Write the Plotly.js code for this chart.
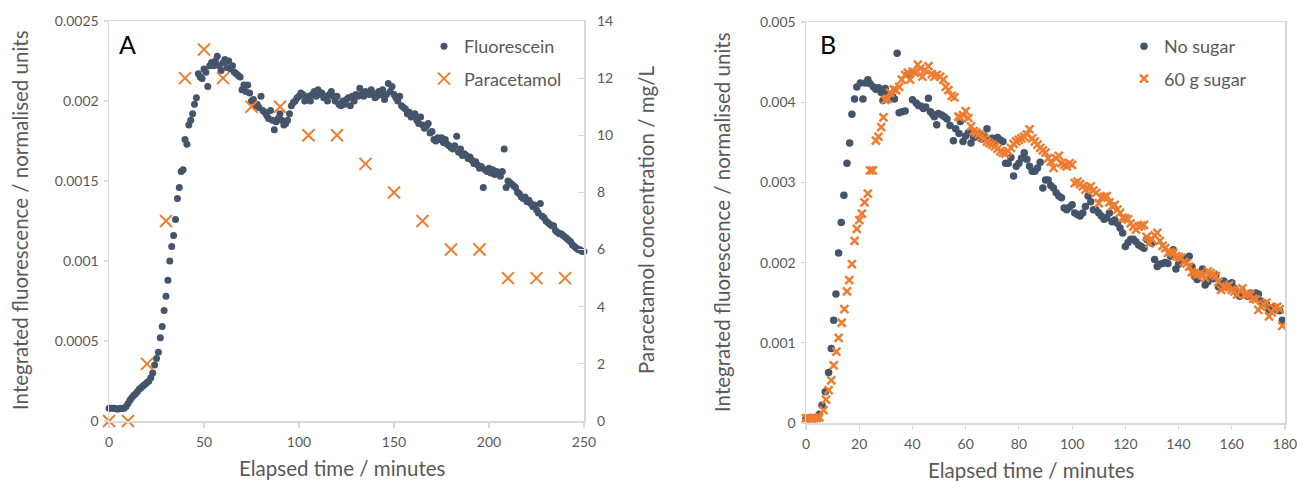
<!DOCTYPE html>
<html>
<head>
<meta charset="utf-8">
<script src="https://cdn.plot.ly/plotly-3.0.1.min.js"></script>
<style>html,body{margin:0;padding:0;background:#fff;}#chart{width:1297px;height:481px;}</style>
</head>
<body>
<div id="chart"></div>
<script>
// ---------- Panel A data ----------
const fluorTime = [
0,1,2,3,4,5,6,7,8,9,
10,11,12,13,14,15,16,17,18,19,
20,21,22,23,24,25,26,27,28,29,
30,31,32,33,34,35,36,37,38,39,
40,41,42,43,44,45,46,47,48,49,
50,51,52,53,54,55,56,57,58,59,
60,61,62,63,64,65,66,67,68,69,
70,71,72,73,74,75,76,77,78,79,
80,81,82,83,84,85,86,87,88,89,
90,91,92,93,94,95,96,97,98,99,
100,101,102,103,104,105,106,107,108,109,
110,111,112,113,114,115,116,117,118,119,
120,121,122,123,124,125,126,127,128,129,
130,131,132,133,134,135,136,137,138,139,
140,141,142,143,144,145,146,147,148,149,
150,151,152,153,154,155,156,157,158,159,
160,161,162,163,164,165,166,167,168,169,
170,171,172,173,174,175,176,177,178,179,
180,181,182,183,184,185,186,187,188,189,
190,191,192,193,194,195,196,197,198,199,
200,201,202,203,204,205,206,207,208,209,
210,211,212,213,214,215,216,217,218,219,
220,221,222,223,224,225,226,227,228,229,
230,231,232,233,234,235,236,237,238,239,
240,241,242,243,244,245,246,247,248,249,250];
const fluorValue = [
0.00008,0.00008,0.00008,0.00008,0.000075,0.000075,0.00008,0.000078,0.00008,0.00009,
0.00011,0.00013,0.000145,0.00016,0.00017,0.000185,0.0002,0.00021,0.00022,0.00023,
0.00024,0.00025,0.00027,0.0003,0.00035,0.00039,0.00043,0.00052,0.00059,0.00069,
0.00078,0.00088,0.001,0.00109,0.00116,0.00126,0.00139,0.00146,0.00156,0.00157,
0.00176,0.00173,0.00185,0.00188,0.00192,0.00198,0.00202,0.00217,0.00215,0.00214,
0.0022,0.00218,0.00209,0.00222,0.00224,0.00222,0.00225,0.00228,0.00222,0.00219,
0.00224,0.00226,0.00221,0.00225,0.0022,0.00222,0.00218,0.00217,0.00216,0.00215,
0.00207,0.0021,0.00206,0.0021,0.00205,0.002,0.00201,0.00197,0.00198,0.00196,
0.00203,0.00194,0.00193,0.00191,0.00189,0.00194,0.00188,0.00182,0.00187,0.00189,
0.00192,0.00188,0.00185,0.00186,0.00188,0.00192,0.00197,0.00199,0.002,0.00202,
0.00203,0.00205,0.00204,0.002,0.00202,0.00203,0.002,0.00204,0.00206,0.00203,
0.00207,0.00204,0.00205,0.00202,0.00203,0.002,0.00204,0.00206,0.00203,0.002,
0.00203,0.00198,0.00197,0.002,0.00198,0.00201,0.00202,0.00197,0.00203,0.002,
0.00204,0.00203,0.00208,0.00204,0.00203,0.00206,0.00205,0.00204,0.00207,0.00205,
0.00202,0.00203,0.00206,0.00204,0.00207,0.00201,0.00204,0.00211,0.00206,0.00209,
0.00204,0.00202,0.002,0.00203,0.00197,0.00196,0.00195,0.00192,0.00193,0.0019,
0.00191,0.00192,0.00188,0.00186,0.0019,0.00185,0.00183,0.00184,0.00186,0.0018,
0.00181,0.00176,0.00175,0.00177,0.00176,0.00177,0.00174,0.00176,0.00173,0.00172,
0.00171,0.0017,0.00172,0.00178,0.00168,0.0017,0.00166,0.00167,0.00166,0.00164,
0.00165,0.00163,0.00161,0.00162,0.0016,0.00158,0.00159,0.00146,0.00157,0.00156,
0.00158,0.00155,0.00157,0.00154,0.00156,0.00155,0.00153,0.00156,0.0017,0.00146,
0.0015,0.00149,0.00148,0.00147,0.00146,0.00143,0.00142,0.0014,0.00139,0.0014,
0.00137,0.00138,0.00136,0.00134,0.00135,0.00132,0.0013,0.00136,0.00128,0.00127,
0.00125,0.00124,0.00123,0.00122,0.00122,0.00119,0.00118,0.00117,0.00117,0.00116,
0.00115,0.00114,0.00113,0.00112,0.0011,0.00109,0.00108,0.00107,0.00107,0.00106,0.00106];

const paraTime  = [0,10,20,30,40,50,60,75,90,105,120,135,150,165,180,195,210,225,240];
const paraValue = [0,0,2,7,12,13,12,11,11,10,10,9,8,7,6,6,5,5,5];

// ---------- Panel B data ----------
const noSugarTime = [
0,1,2,3,4,5,6,7.25,8.5,9.5,10.4,11.25,12.25,13.25,14.25,15.4,16.4,17.25,18.25,19.1,
20.4,21.4,22.25,23.25,24.1,25.4,26.25,27.25,28.25,28.9,29.75,30.75,31.6,32.5,33.25,34.25,35,36,37.25,38.25,
40,41.4,42.25,43.25,44.1,45,46,46.75,47.6,48.25,49.1,49.75,51,52,53,54.1,55.4,56.25,57.5,
58,59,60,61,62,63,64,65,66,67,68,69,70,71,72,73,74,75,76,77,78,79,
80,81,82,83,84,85,86,87,88,89,90,91,92,93,94,95,96,97,98,99,
100,101,102,103,104,105,106,107,108,109,110,111,112,113,114,115,116,117,118,119,
120,121,122,123,124,125,126,127,128,129,130,131,132,133,134,135,136,137,138,139,
140,141,142,143,144,145,146,147,148,149,150,151,152,153,154,155,156,157,158,159,
160,161,162,163,164,165,166,167,168,169,170,171,172,173,174,175,176,177,178,179];
const noSugarValue = [
0.00006,0.00006,0.00006,0.00006,0.00007,0.00011,0.00022,0.00039,0.00063,0.00093,0.00128,0.00161,0.00212,0.0025,0.00284,0.00324,0.00349,0.00385,0.00404,0.00419,
0.00424,0.00404,0.00424,0.00428,0.00423,0.00419,0.00416,0.00418,0.00412,0.00402,0.00417,0.0041,0.00404,0.00407,0.00404,0.00461,0.00387,0.00388,0.00389,0.00435,
0.00403,0.00399,0.00396,0.00395,0.00392,0.00394,0.00405,0.00388,0.00385,0.00382,0.00372,0.00386,0.00384,0.00382,0.00379,0.00371,0.00352,0.00367,0.00361,
0.00376,0.00351,0.00358,0.00362,0.00349,0.00356,0.00357,0.0036,0.00354,0.00358,0.00367,0.00352,0.00355,0.00349,0.00356,0.00353,0.00351,0.00324,0.00324,0.00331,0.00308,0.0032,
0.00324,0.0033,0.00337,0.00329,0.0032,0.00314,0.00314,0.00318,0.00325,0.00293,0.00303,0.00303,0.00296,0.00293,0.00287,0.00283,0.00281,0.00268,0.00266,0.00269,
0.00272,0.00262,0.0026,0.00258,0.00262,0.0027,0.00283,0.00276,0.00266,0.00266,0.00262,0.00258,0.00254,0.00256,0.00262,0.00251,0.00253,0.00249,0.00243,0.00237,
0.0022,0.00225,0.00229,0.00229,0.00226,0.00222,0.0022,0.00218,0.00229,0.00227,0.00224,0.00204,0.00195,0.00198,0.00199,0.002,0.00199,0.00208,0.00216,0.00192,
0.00198,0.00204,0.00204,0.00206,0.00208,0.00195,0.00183,0.00179,0.00185,0.00192,0.00172,0.00176,0.00183,0.0018,0.00184,0.0017,0.00168,0.00177,0.0017,0.00173,
0.00175,0.00168,0.00162,0.00158,0.00164,0.0016,0.00158,0.00162,0.0016,0.00162,0.00161,0.00152,0.0015,0.00148,0.00141,0.00143,0.00145,0.00141,0.0014,0.00128];

const sugarTime = [
0,1,2,3,4,5,6.6,7.5,8.5,9.5,10.4,11.4,12.25,13.4,14.4,15.4,16.25,17.25,18.25,19.1,
20,21,22,23.25,24.1,25.1,26.25,27.25,28.25,29.1,29.75,30.75,31.6,32.9,33.9,35,36,37.25,38.25,39.1,
40.1,41,42,42.9,43.75,44.75,46,47.25,48.25,49.1,50.4,51.6,52.5,53.5,54.75,55.75,57.25,
58,59,60,61,62,63,64,65,66,67,68,69,70,71,72,73,74,75,76,77,78,79,
80,81,82,83,84,85,86,87,88,89,90,91,92,93,94,95,96,97,98,99,
100,101,102,103,104,105,106,107,108,109,110,111,112,113,114,115,116,117,118,119,
120,121,122,123,124,125,126,127,128,129,130,131,132,133,134,135,136,137,138,139,
140,141,142,143,144,145,146,147,148,149,150,151,152,153,154,155,156,157,158,159,
160,161,162,163,164,165,166,167,168,169,170,171,172,173,174,175,176,177,178,179];
const sugarValue = [
0.00006,0.00006,0.00005,0.00006,0.00006,0.00007,0.00016,0.00029,0.00041,0.00053,0.00072,0.00089,0.00106,0.00125,0.00142,0.00164,0.00178,0.00198,0.00227,0.00242,
0.00253,0.00261,0.00275,0.00286,0.00315,0.00315,0.00352,0.00357,0.00369,0.00381,0.00403,0.00404,0.00412,0.00416,0.00415,0.00419,0.00428,0.00434,0.00437,0.00428,
0.00438,0.00437,0.00447,0.00442,0.00432,0.0044,0.00445,0.00435,0.00432,0.00434,0.00432,0.00428,0.00419,0.00415,0.00408,0.00406,0.00382,
0.00381,0.00384,0.00389,0.0038,0.0037,0.00364,0.00362,0.0036,0.00357,0.00355,0.00351,0.00349,0.00347,0.00345,0.00342,0.00339,0.00337,0.00336,0.00339,0.00343,0.00348,0.00351,
0.00353,0.00355,0.00357,0.0036,0.00366,0.00355,0.00351,0.00347,0.00343,0.0034,0.00337,0.0033,0.00326,0.00318,0.0033,0.00333,0.00324,0.00322,0.0032,0.00324,
0.00322,0.00299,0.00301,0.00298,0.00295,0.00291,0.00293,0.00295,0.0029,0.00287,0.00274,0.00281,0.00282,0.00283,0.00275,0.0027,0.00272,0.00266,0.00262,0.00256,
0.00255,0.00254,0.00249,0.00245,0.00241,0.00245,0.00246,0.00247,0.00232,0.00224,0.00229,0.00234,0.00237,0.00227,0.00221,0.00218,0.00212,0.00213,0.00212,0.00208,
0.00207,0.00206,0.00201,0.00199,0.00195,0.00188,0.00187,0.00185,0.00186,0.00184,0.00181,0.00189,0.00187,0.00185,0.00183,0.00176,0.00166,0.00169,0.0017,0.00172,
0.00166,0.00164,0.0016,0.00165,0.00168,0.0016,0.00161,0.0016,0.00155,0.00154,0.00141,0.00145,0.00148,0.0015,0.00133,0.00138,0.00143,0.00145,0.00142,0.00121];

// ---------- Tick labels ----------
const aXTicks = [0,50,100,150,200,250];
const aYTicks = [0,0.0005,0.001,0.0015,0.002,0.0025];
const aYTickText = ['0','0.0005','0.001','0.0015','0.002','0.0025'];
const aY2Ticks = [0,2,4,6,8,10,12,14];
const bXTicks = [0,20,40,60,80,100,120,140,160,180];
const bYTicks = [0,0.001,0.002,0.003,0.004,0.005];
const bYTickText = ['0','0.001','0.002','0.003','0.004','0.005'];

const NAVY = '#44546A', ORANGE = '#ED7D31', GREY = '#595959', LINE = '#d9d9d9';
const W = 1297, H = 481;
const px = v => v / W, py = v => 1 - v / H;

const traces = [
  {x: fluorTime, y: fluorValue, name: 'Fluorescein', mode: 'markers', type: 'scatter',
   xaxis: 'x', yaxis: 'y', cliponaxis: false, legend: 'legend', legendgroup: 'a1',
   marker: {color: NAVY, size: 7, symbol: 'circle'}},
  {x: paraTime, y: paraValue, name: 'Paracetamol', mode: 'markers', type: 'scatter',
   xaxis: 'x', yaxis: 'y2', cliponaxis: false, legend: 'legend', legendgroup: 'a2',
   marker: {color: ORANGE, size: 12, symbol: 'x-thin', line: {color: ORANGE, width: 2}}},
  {x: noSugarTime, y: noSugarValue, name: 'No sugar', mode: 'markers', type: 'scatter',
   xaxis: 'x2', yaxis: 'y3', cliponaxis: false, legend: 'legend2', legendgroup: 'b1',
   marker: {color: NAVY, size: 7.5, symbol: 'circle'}},
  {x: sugarTime, y: sugarValue, name: '60 g sugar', mode: 'markers', type: 'scatter',
   xaxis: 'x2', yaxis: 'y3', cliponaxis: false, legend: 'legend2', legendgroup: 'b2',
   marker: {color: ORANGE, size: 8, symbol: 'x-thin', line: {color: ORANGE, width: 2.5}}}
];

const FAM = 'Lato, sans-serif';
const tickFont = {family: FAM, size: 14, color: GREY};
const baseAxis = {showgrid: false, zeroline: false, showline: true, linecolor: LINE, linewidth: 1.5,
  ticks: 'outside', ticklen: 5, tickcolor: LINE, tickwidth: 1.2, tickfont: tickFont, automargin: false,
  fixedrange: true, ticklabeloverflow: 'allow'};
const titleFont = {family: FAM, size: 20.5, color: GREY};
const legendFont = {family: FAM, size: 18, color: GREY};

const layout = {
  width: W, height: H,
  margin: {l: 0, r: 0, t: 0, b: 0, pad: 0},
  paper_bgcolor: '#ffffff', plot_bgcolor: '#ffffff',
  font: {family: FAM, color: GREY},
  showlegend: true,
  xaxis: Object.assign({}, baseAxis, {domain: [px(109), px(584)], range: [0, 250], anchor: 'y',
    tickvals: aXTicks, mirror: true, ticklabelstandoff: 3}),
  yaxis: Object.assign({}, baseAxis, {domain: [py(421), py(21)], range: [0, 0.0025], anchor: 'x',
    tickvals: aYTicks, ticktext: aYTickText, mirror: true, ticklen: 4, ticklabelstandoff: 2}),
  yaxis2: Object.assign({}, baseAxis, {overlaying: 'y', side: 'right', anchor: 'x', range: [0, 14],
    tickvals: aY2Ticks, showline: false, ticks: 'inside', ticklen: 6, ticklabelstandoff: 12}),
  xaxis2: Object.assign({}, baseAxis, {domain: [px(806), px(1285)], range: [0, 180], anchor: 'y3',
    tickvals: bXTicks, mirror: true, ticklabelstandoff: 3}),
  yaxis3: Object.assign({}, baseAxis, {domain: [py(423), py(22)], range: [0, 0.005], anchor: 'x2',
    tickvals: bYTicks, ticktext: bYTickText, mirror: true, ticklen: 4, ticklabelstandoff: 2}),
  legend: {x: px(424), y: py(28), xanchor: 'left', yanchor: 'top', bgcolor: 'rgba(0,0,0,0)',
    font: legendFont, traceorder: 'grouped', tracegroupgap: 6},
  legend2: {x: px(1124), y: py(28), xanchor: 'left', yanchor: 'top', bgcolor: 'rgba(0,0,0,0)',
    font: legendFont, traceorder: 'grouped', tracegroupgap: 6},
  annotations: [
    {text: 'A', x: px(127.5), y: py(44), xref: 'paper', yref: 'paper', showarrow: false,
     xanchor: 'center', yanchor: 'middle', font: {family: FAM, size: 25, color: '#000000'}},
    {text: 'B', x: px(828), y: py(44), xref: 'paper', yref: 'paper', showarrow: false,
     xanchor: 'center', yanchor: 'middle', font: {family: FAM, size: 25, color: '#000000'}},
    {text: 'Integrated fluorescence / normalised units', x: px(20), y: py(220), xref: 'paper', yref: 'paper',
     showarrow: false, textangle: -90, xanchor: 'center', yanchor: 'middle', font: titleFont},
    {text: 'Paracetamol concentration / mg/L', x: px(646), y: py(220), xref: 'paper', yref: 'paper',
     showarrow: false, textangle: -90, xanchor: 'center', yanchor: 'middle', font: titleFont},
    {text: 'Integrated fluorescence / normalised units', x: px(722), y: py(222), xref: 'paper', yref: 'paper',
     showarrow: false, textangle: -90, xanchor: 'center', yanchor: 'middle', font: titleFont},
    {text: 'Elapsed time / minutes', x: px(343), y: py(468), xref: 'paper', yref: 'paper',
     showarrow: false, xanchor: 'center', yanchor: 'middle', font: titleFont},
    {text: 'Elapsed time / minutes', x: px(1031), y: py(470), xref: 'paper', yref: 'paper',
     showarrow: false, xanchor: 'center', yanchor: 'middle', font: titleFont}
  ]
};

Plotly.newPlot('chart', traces, layout, {displayModeBar: false, staticPlot: true});
</script>
</body>
</html>
